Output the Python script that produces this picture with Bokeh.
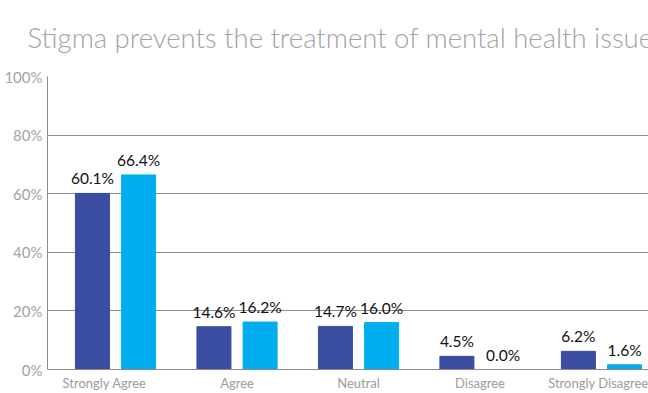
from bokeh.plotting import figure
from bokeh.models import ColumnDataSource, FixedTicker, Title, LabelSet
from bokeh.core.properties import value
from bokeh.embed import file_html
from bokeh.resources import INLINE

categories = ["Strongly Agree", "Agree", "Neutral", "Disagree", "Strongly Disagree"]
series_a = [60.1, 14.6, 14.7, 4.5, 6.2]
series_b = [66.4, 16.2, 16.0, 0.0, 1.6]
y_ticks = [0, 20, 40, 60, 80, 100]
title_text = "Stigma prevents the treatment of mental health issues"

DARK = "#3A4DA0"
LIGHT = "#00AEEF"
GRAY = "#a3a3a3"
FONT = "Lato"

xs = list(range(len(categories)))
off = 0.19
src_a = ColumnDataSource(dict(x=[i - off for i in xs], top=series_a,
                              lbl=[f"{v:.1f}%" for v in series_a]))
src_b = ColumnDataSource(dict(x=[i + off for i in xs], top=series_b,
                              lbl=[f"{v:.1f}%" for v in series_b]))
cat_shift = [-0.09, 0, 0, 0, 0]
cat_ticks = [i + s for i, s in zip(xs, cat_shift)]

X0, X1 = -0.56, 4.387
p = figure(width=648, height=393, output_backend="svg", toolbar_location=None,
           x_range=(X0, X1), y_range=(0, 100),
           min_border_left=47, min_border_right=0, min_border_top=76, min_border_bottom=0)

p.add_layout(Title(text=title_text, text_font="Lato Light", text_font_size="27.5px",
                   text_font_style="normal", text_color="#a2a2a8", align="left",
                   vertical_align="top", offset=-20, standoff=41), "above")

p.vbar(x="x", top="top", width=0.28, color=DARK, source=src_a)
p.vbar(x="x", top="top", width=0.28, color=LIGHT, source=src_b)

for s in (src_a, src_b):
    p.add_layout(LabelSet(x="x", y="top", text="lbl", source=s, text_align="center",
                          text_baseline="alphabetic", y_offset=9, text_font=value(FONT),
                          text_font_size="15.5px", text_color="#111111"))

p.outline_line_color = None
p.xgrid.grid_line_color = None
p.ygrid.grid_line_color = "#8c8c8c"
p.ygrid.grid_line_width = 1
p.ygrid.ticker = FixedTicker(ticks=y_ticks)

p.yaxis.ticker = FixedTicker(ticks=y_ticks)
p.yaxis.major_label_overrides = {v: f"{v}%" for v in y_ticks}
p.yaxis.major_label_text_font = FONT
p.yaxis.major_label_text_font_size = "15px"
p.yaxis.major_label_text_color = GRAY
p.yaxis.axis_line_color = "#8c8c8c"
p.yaxis.major_tick_line_color = None
p.yaxis.minor_tick_line_color = None
p.yaxis.major_tick_out = 0
p.yaxis.major_tick_in = 0
p.yaxis.major_label_standoff = 5

p.xaxis.ticker = FixedTicker(ticks=cat_ticks)
p.xaxis.major_label_overrides = {t: c for t, c in zip(cat_ticks, categories)}
p.xaxis.major_label_text_font = FONT
p.xaxis.major_label_text_font_size = "13px"
p.xaxis.major_label_text_color = "#9c9c9c"
p.xaxis.axis_line_color = "#8c8c8c"
p.xaxis.major_tick_line_color = None
p.xaxis.minor_tick_line_color = None
p.xaxis.major_tick_out = 0
p.xaxis.major_tick_in = 0
p.xaxis.major_label_standoff = 5

open("out.html", "w").write(file_html(p, INLINE))
